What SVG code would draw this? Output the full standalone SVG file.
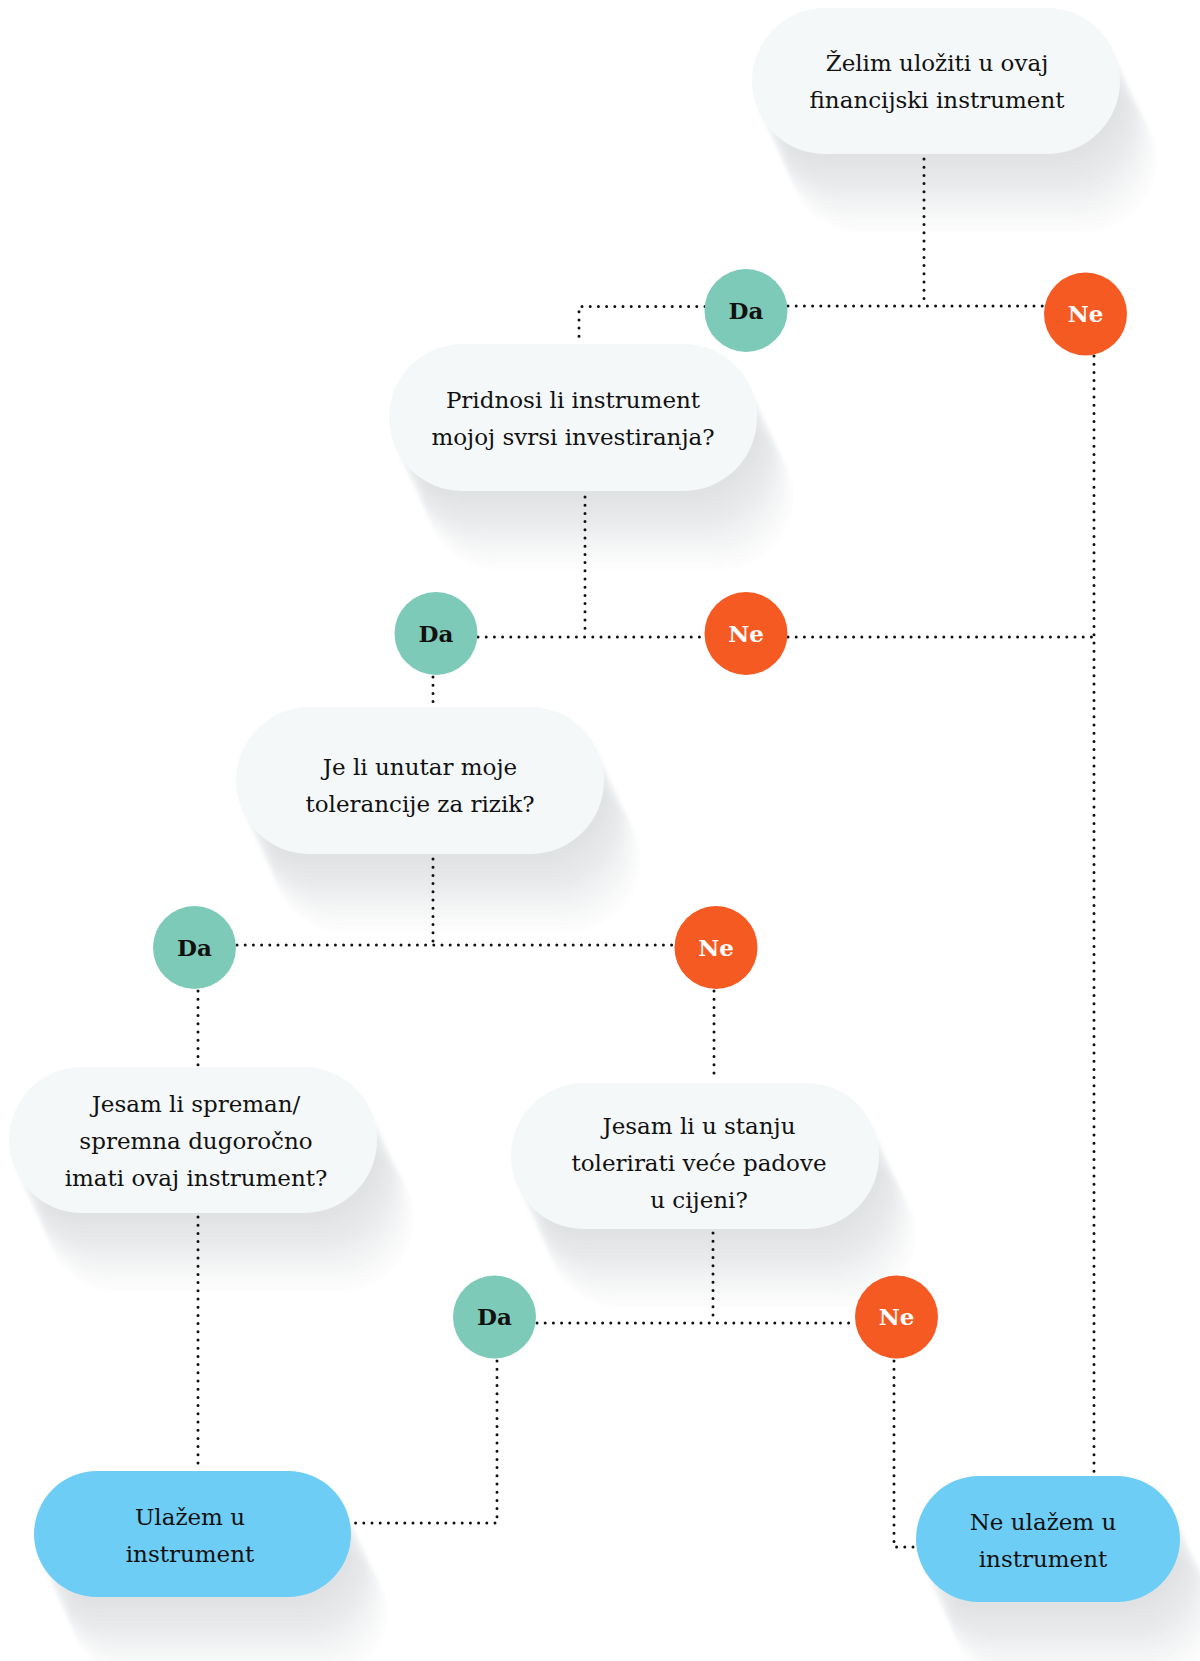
<svg xmlns="http://www.w3.org/2000/svg" width="1200" height="1661" viewBox="0 0 1200 1661">
<defs>
<style>
.q{fill:#f5f8f9}
.end{fill:#6dcdf5}
.da{fill:#7ecab8}
.ne{fill:#f55a23}
.t{font-family:"DejaVu Serif","Liberation Serif",serif;font-size:23px;fill:#111111;text-anchor:middle}
.b{font-family:"DejaVu Serif","Liberation Serif",serif;font-size:23px;font-weight:bold;text-anchor:middle}
.bd{fill:#111111}
.bn{fill:#ffffff}
.c{fill:none;stroke:#111111;stroke-width:3;stroke-linecap:round;stroke-dasharray:0 8.2}
.sh{fill:#000000}
</style>
<filter id="ls" x="-5%" y="-5%" width="125%" height="175%" color-interpolation-filters="sRGB">
<feColorMatrix in="SourceAlpha" type="matrix" values="0 0 0 0 0.55  0 0 0 0 0.58  0 0 0 0 0.61  0 0 0 0.026 0" result="s"/>
<feOffset in="s" dx="3" dy="6.5" result="o1"/>
<feOffset in="s" dx="6" dy="13" result="o2"/>
<feOffset in="s" dx="9" dy="19.5" result="o3"/>
<feOffset in="s" dx="12" dy="26" result="o4"/>
<feOffset in="s" dx="15" dy="32.5" result="o5"/>
<feOffset in="s" dx="18" dy="39" result="o6"/>
<feOffset in="s" dx="21" dy="45.5" result="o7"/>
<feOffset in="s" dx="24" dy="52" result="o8"/>
<feOffset in="s" dx="27" dy="58.5" result="o9"/>
<feOffset in="s" dx="30" dy="65" result="o10"/>
<feOffset in="s" dx="33" dy="71.5" result="o11"/>
<feOffset in="s" dx="36" dy="78" result="o12"/>
<feMerge result="m">
<feMergeNode in="o1"/><feMergeNode in="o2"/><feMergeNode in="o3"/><feMergeNode in="o4"/>
<feMergeNode in="o5"/><feMergeNode in="o6"/><feMergeNode in="o7"/><feMergeNode in="o8"/>
<feMergeNode in="o9"/><feMergeNode in="o10"/><feMergeNode in="o11"/><feMergeNode in="o12"/>
</feMerge>
<feGaussianBlur in="m" stdDeviation="1.5"/>
</filter>
</defs>
<rect width="1200" height="1661" fill="#ffffff"/>

<g id="shadows" filter="url(#ls)">
<rect class="sh" x="752" y="8" width="368" height="146" rx="73"/>
<rect class="sh" x="389" y="344" width="368" height="147" rx="73.5"/>
<rect class="sh" x="236" y="707" width="368" height="147" rx="73.5"/>
<rect class="sh" x="9" y="1067" width="368" height="146" rx="73"/>
<rect class="sh" x="511" y="1083" width="368" height="146" rx="73"/>
<rect class="sh" x="34" y="1471" width="317" height="126" rx="63"/>
<rect class="sh" x="916" y="1476" width="264" height="126" rx="63"/>
</g>

<g id="connectors">
<path class="c" d="M924 159 V306"/>
<path class="c" d="M788 306 H1044"/>
<path class="c" d="M705 306.5 H579 V341"/>
<path class="c" d="M1094 356 V1473"/>
<path class="c" d="M585 497 V636"/>
<path class="c" d="M478 637 H705"/>
<path class="c" d="M788 637 H1094"/>
<path class="c" d="M433 677 V705"/>
<path class="c" d="M433 859 V944"/>
<path class="c" d="M237 945 H675"/>
<path class="c" d="M198 991 V1065"/>
<path class="c" d="M714 991 V1081"/>
<path class="c" d="M198 1217 V1469"/>
<path class="c" d="M713 1233 V1321"/>
<path class="c" d="M537 1323 H855"/>
<path class="c" d="M497 1361 V1523 H354"/>
<path class="c" d="M894 1361 V1547 H914"/>
</g>

<g id="n-start">
<rect class="q" x="752" y="8" width="368" height="146" rx="73"/>
<text class="t" x="937" y="71">Želim uložiti u ovaj</text>
<text class="t" x="937" y="108">financijski instrument</text>
</g>
<g id="d1-da"><circle class="da" cx="746" cy="310.5" r="41.5"/><text class="b bd" x="746" y="318.5">Da</text></g>
<g id="d1-ne"><circle class="ne" cx="1085.5" cy="314" r="41.5"/><text class="b bn" x="1085.5" y="322">Ne</text></g>

<g id="n-svrha">
<rect class="q" x="389" y="344" width="368" height="147" rx="73.5"/>
<text class="t" x="573" y="408">Pridnosi li instrument</text>
<text class="t" x="573" y="445">mojoj svrsi investiranja?</text>
</g>
<g id="d2-da"><circle class="da" cx="436" cy="633.5" r="41.5"/><text class="b bd" x="436" y="641.5">Da</text></g>
<g id="d2-ne"><circle class="ne" cx="746" cy="633.5" r="41.5"/><text class="b bn" x="746" y="641.5">Ne</text></g>

<g id="n-rizik">
<rect class="q" x="236" y="707" width="368" height="147" rx="73.5"/>
<text class="t" x="420" y="775">Je li unutar moje</text>
<text class="t" x="420" y="812">tolerancije za rizik?</text>
</g>
<g id="d3-da"><circle class="da" cx="194.5" cy="947.5" r="41.5"/><text class="b bd" x="194.5" y="955.5">Da</text></g>
<g id="d3-ne"><circle class="ne" cx="716" cy="947.5" r="41.5"/><text class="b bn" x="716" y="955.5">Ne</text></g>

<g id="n-dugorocno">
<rect class="q" x="9" y="1067" width="368" height="146" rx="73"/>
<text class="t" x="196" y="1112">Jesam li spreman/</text>
<text class="t" x="196" y="1149">spremna dugoročno</text>
<text class="t" x="196" y="1186">imati ovaj instrument?</text>
</g>

<g id="n-padovi">
<rect class="q" x="511" y="1083" width="368" height="146" rx="73"/>
<text class="t" x="699" y="1134">Jesam li u stanju</text>
<text class="t" x="699" y="1171">tolerirati veće padove</text>
<text class="t" x="699" y="1208">u cijeni?</text>
</g>
<g id="d4-da"><circle class="da" cx="494.5" cy="1317" r="41.5"/><text class="b bd" x="494.5" y="1325">Da</text></g>
<g id="d4-ne"><circle class="ne" cx="896.5" cy="1317" r="41.5"/><text class="b bn" x="896.5" y="1325">Ne</text></g>

<g id="n-ulazem">
<rect class="end" x="34" y="1471" width="317" height="126" rx="63"/>
<text class="t" x="190" y="1525">Ulažem u</text>
<text class="t" x="190" y="1562">instrument</text>
</g>

<g id="n-ne-ulazem">
<rect class="end" x="916" y="1476" width="264" height="126" rx="63"/>
<text class="t" x="1043" y="1530">Ne ulažem u</text>
<text class="t" x="1043" y="1567">instrument</text>
</g>
</svg>
